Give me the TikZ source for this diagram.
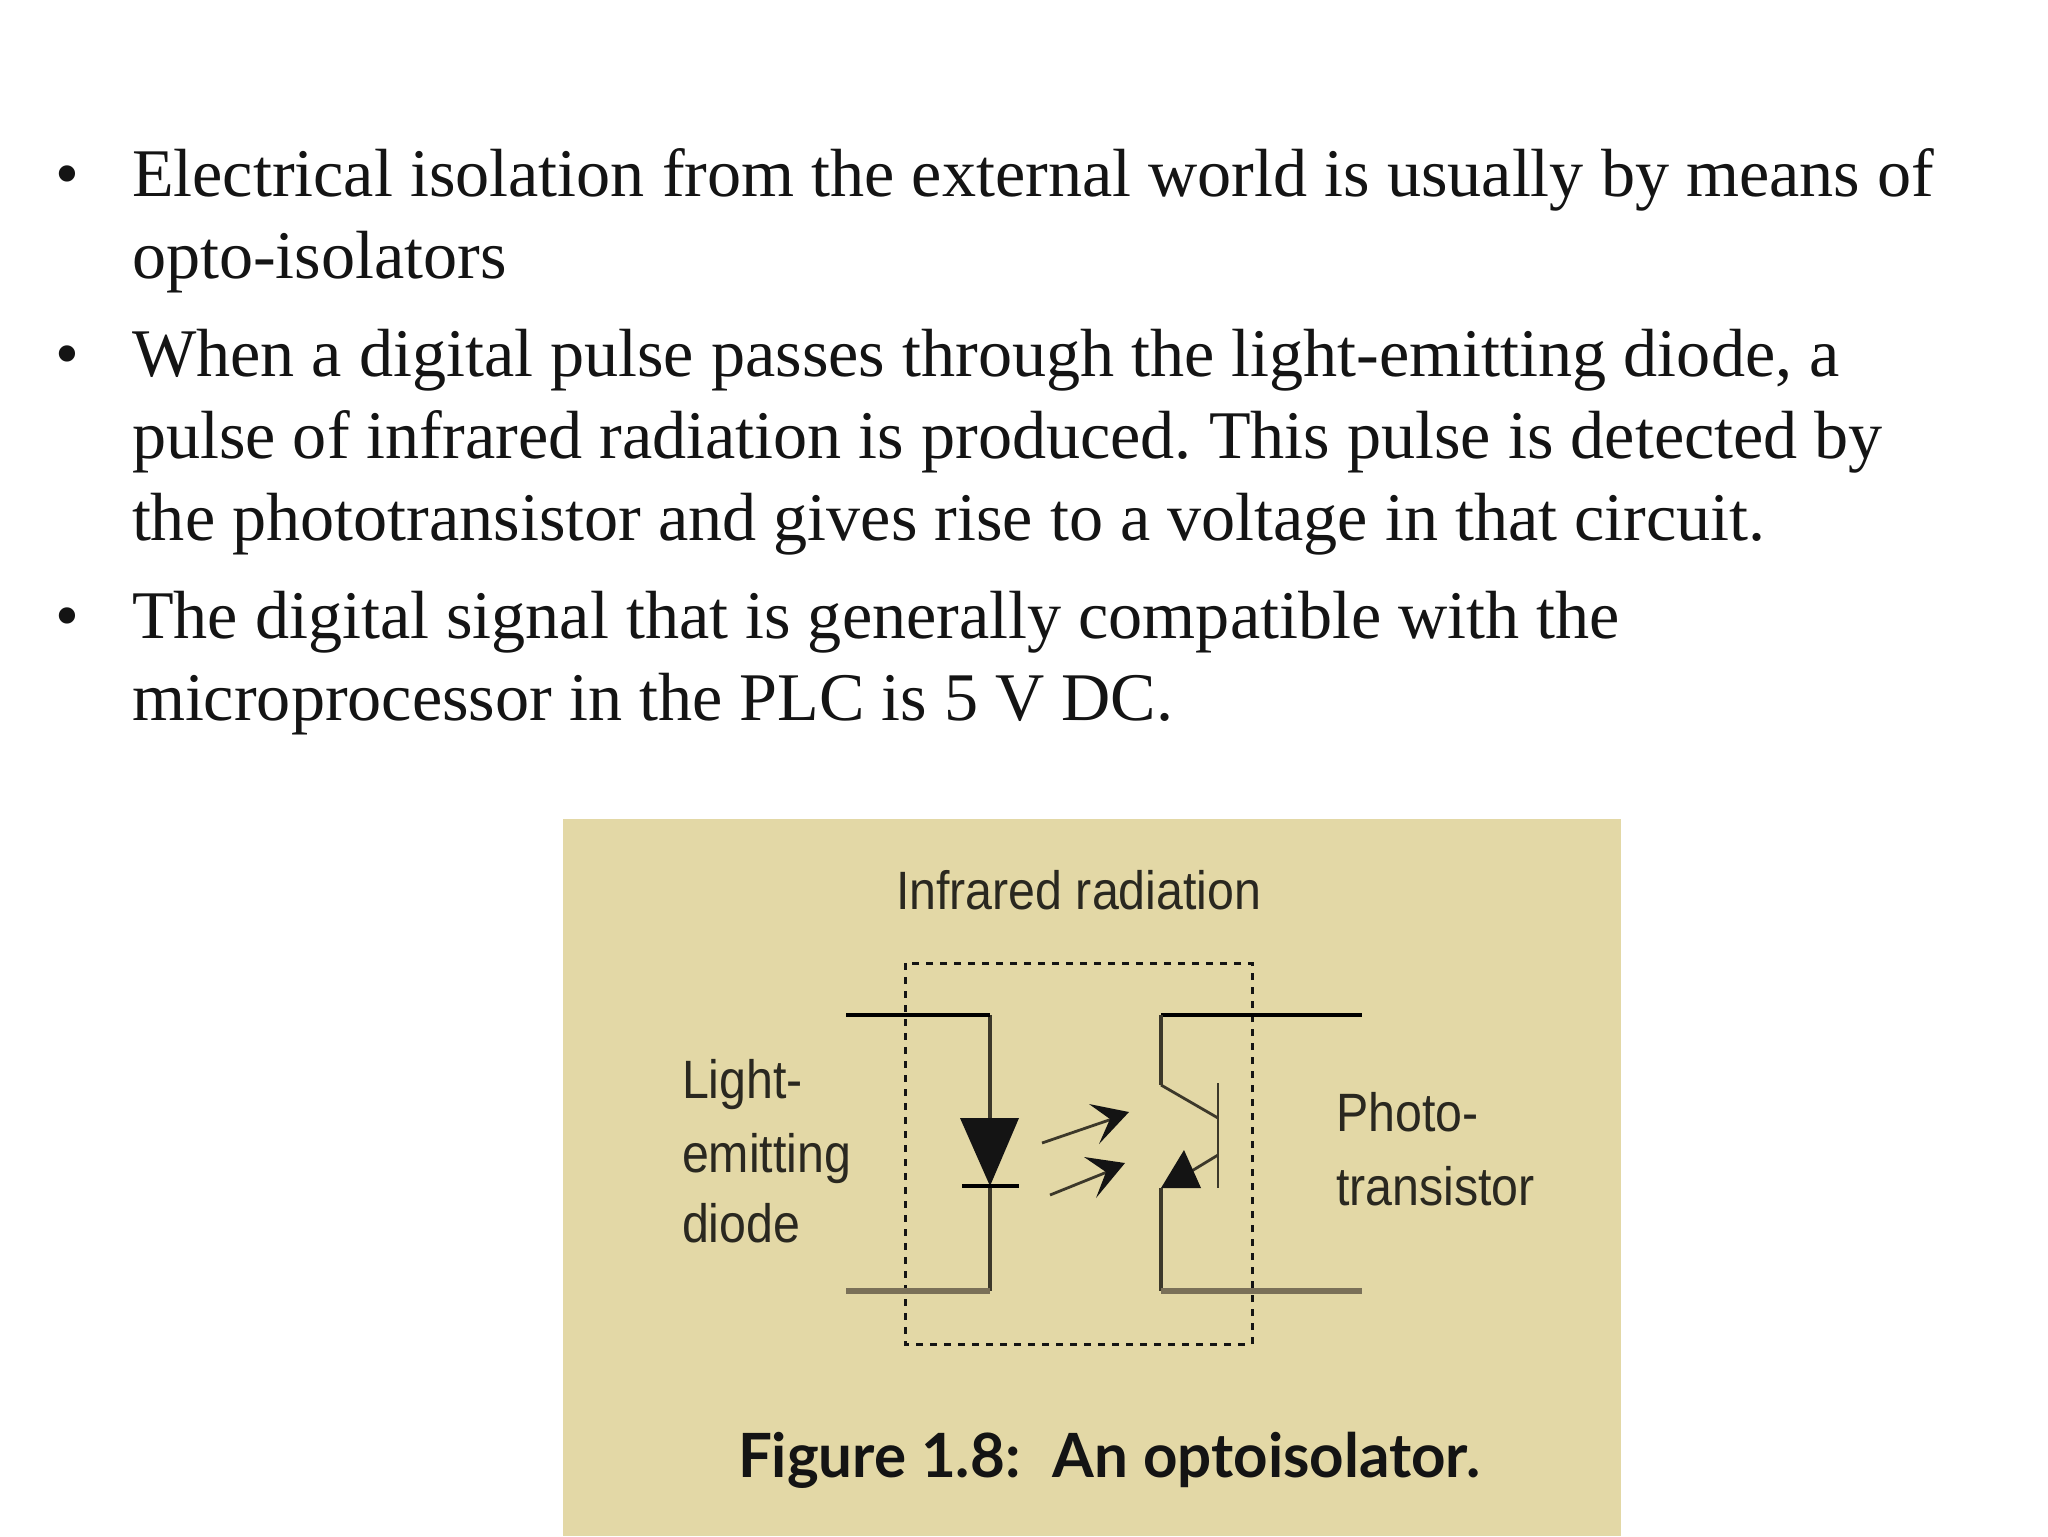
\documentclass[tikz,border=0pt]{standalone}
\usepackage{fontspec}
\setmainfont{Liberation Serif}
\newfontfamily\labelfont[FakeStretch=0.895]{Liberation Sans}
\newfontfamily\capfont[FakeStretch=0.985]{Lato Bold}
\definecolor{panel}{HTML}{E3D8A6}
\definecolor{ink}{HTML}{141414}
\definecolor{wiredark}{HTML}{3C382A}
\definecolor{labelink}{HTML}{2A2820}
\definecolor{wirelow}{HTML}{7A7058}
\tikzset{
  line/.style={anchor=base west,inner sep=0pt,outer sep=0pt,text=ink,font=\fontsize{34.08}{38}\selectfont},
  bull/.style={anchor=base,inner sep=0pt,outer sep=0pt,text=ink,font=\fontsize{34.08}{38}\selectfont},
  lab/.style={anchor=base west,inner sep=0pt,outer sep=0pt,text=labelink,font=\labelfont\fontsize{27}{30}\selectfont},
  capt/.style={anchor=base west,inner sep=0pt,outer sep=0pt,text=ink,font=\capfont\fontsize{30.5}{34}\selectfont},
  wiretop/.style={draw=black,line width=2pt},
  wirebot/.style={draw=wirelow,line width=2.8pt},
  wirev/.style={draw=wiredark,line width=1.9pt},
  thin wire/.style={draw=wiredark,line width=1.4pt},
  dashbox/.style={draw=ink,line width=1.5pt,dash pattern=on 3.5pt off 3.5pt},
  solidfill/.style={fill=ink,draw=none}
}
\begin{document}
\frenchspacing
\begin{tikzpicture}[x=0.5pt,y=-0.5pt]
\useasboundingbox (0,0) rectangle (2048,1536);
\fill[white] (0,0) rectangle (2048,1536);
% text
\node[bull] (b1) at (67,196) {•};
\node[line] (l1) at (132,196) {Electrical isolation from the external world is usually by means of};
\node[line] (l2) at (132,278) {opto-isolators};
\node[bull] (b2) at (67,376) {•};
\node[line] (l3) at (132,376) {When a digital pulse passes through the light-emitting diode, a};
\node[line] (l4) at (132,458) {pulse of infrared radiation is produced. This pulse is detected by};
\node[line] (l5) at (132,540) {the phototransistor and gives rise to a voltage in that circuit.};
\node[bull] (b3) at (67,638) {•};
\node[line] (l6) at (132,638) {The digital signal that is generally compatible with the};
\node[line] (l7) at (132,720) {microprocessor in the PLC is 5 V DC.};
% panel
\fill[panel] (563,819) rectangle (1621,1536);
\node[lab] (ir) at (896,909) {Infrared radiation};
\node[lab] (le1) at (682,1098) {Light-};
\node[lab] (le2) at (682,1172) {emitting};
\node[lab] (le3) at (682,1242) {diode};
\node[lab] (ph1) at (1336,1131) {Photo-};
\node[lab] (ph2) at (1336,1205) {transistor};
\node[capt] (cap) at (738,1477) {Figure 1.8:\hspace{0.53em}An optoisolator.};
% coordinates
\coordinate (tl) at (846,1015);
\coordinate (tm) at (990,1015);
\coordinate (bl) at (846,1291);
\coordinate (bm) at (990,1291);
\coordinate (dtop) at (990,1118);
\coordinate (dleft) at (960,1118);
\coordinate (dright) at (1019,1118);
\coordinate (dtip) at (990,1186);
\coordinate (barl) at (962,1186);
\coordinate (barr) at (1019,1186);
\coordinate (ct) at (1161,1015);
\coordinate (tr) at (1362,1015);
\coordinate (ck) at (1161,1085);
\coordinate (bc) at (1218,1118);
\coordinate (bt) at (1218,1083);
\coordinate (bb) at (1218,1188);
\coordinate (be) at (1218,1155);
\coordinate (ea) at (1184,1150);
\coordinate (el) at (1161,1188);
\coordinate (er) at (1201,1188);
\coordinate (em) at (1190,1172);
\coordinate (cb) at (1161,1291);
\coordinate (br) at (1362,1291);
\coordinate (a1s) at (1042,1143);
\coordinate (a1e) at (1115,1118);
\coordinate (a1a) at (1089,1104);
\coordinate (a1t) at (1129,1112);
\coordinate (a1b) at (1099,1144);
\coordinate (a2s) at (1050,1195);
\coordinate (a2e) at (1112,1170);
\coordinate (a2a) at (1084,1157);
\coordinate (a2t) at (1125,1163);
\coordinate (a2b) at (1096,1198);
% dashed box
\draw[dashbox] (905,963) rectangle (1252,1344);
% diode
\draw[wirev] (tm) -- (dtop);
\draw[wirev] (dtip) -- (bm);
\draw[wirebot] (bl) -- (bm);
\draw[wiretop] (tl) -- (tm);
\fill[solidfill] (dleft) -- (dright) -- (dtip) -- cycle;
\draw[wiretop] (barl) -- (barr);
% light arrows
\draw[thin wire] (a1s) -- (a1e);
\fill[solidfill] (a1a) -- (a1t) -- (a1b) -- (1110,1119) -- cycle;
\draw[thin wire] (a2s) -- (a2e);
\fill[solidfill] (a2a) -- (a2t) -- (a2b) -- (1106,1172) -- cycle;
% transistor
\draw[wiretop] (ct) -- (tr);
\draw[wirev] (ct) -- (ck);
\draw[thin wire] (ck) -- (bc);
\draw[thin wire] (bt) -- (bb);
\draw[thin wire] (be) -- (em);
\fill[solidfill] (ea) -- (er) -- (el) -- cycle;
\draw[wirev] (el) -- (cb);
\draw[wirebot] (cb) -- (br);
\end{tikzpicture}
\end{document}
